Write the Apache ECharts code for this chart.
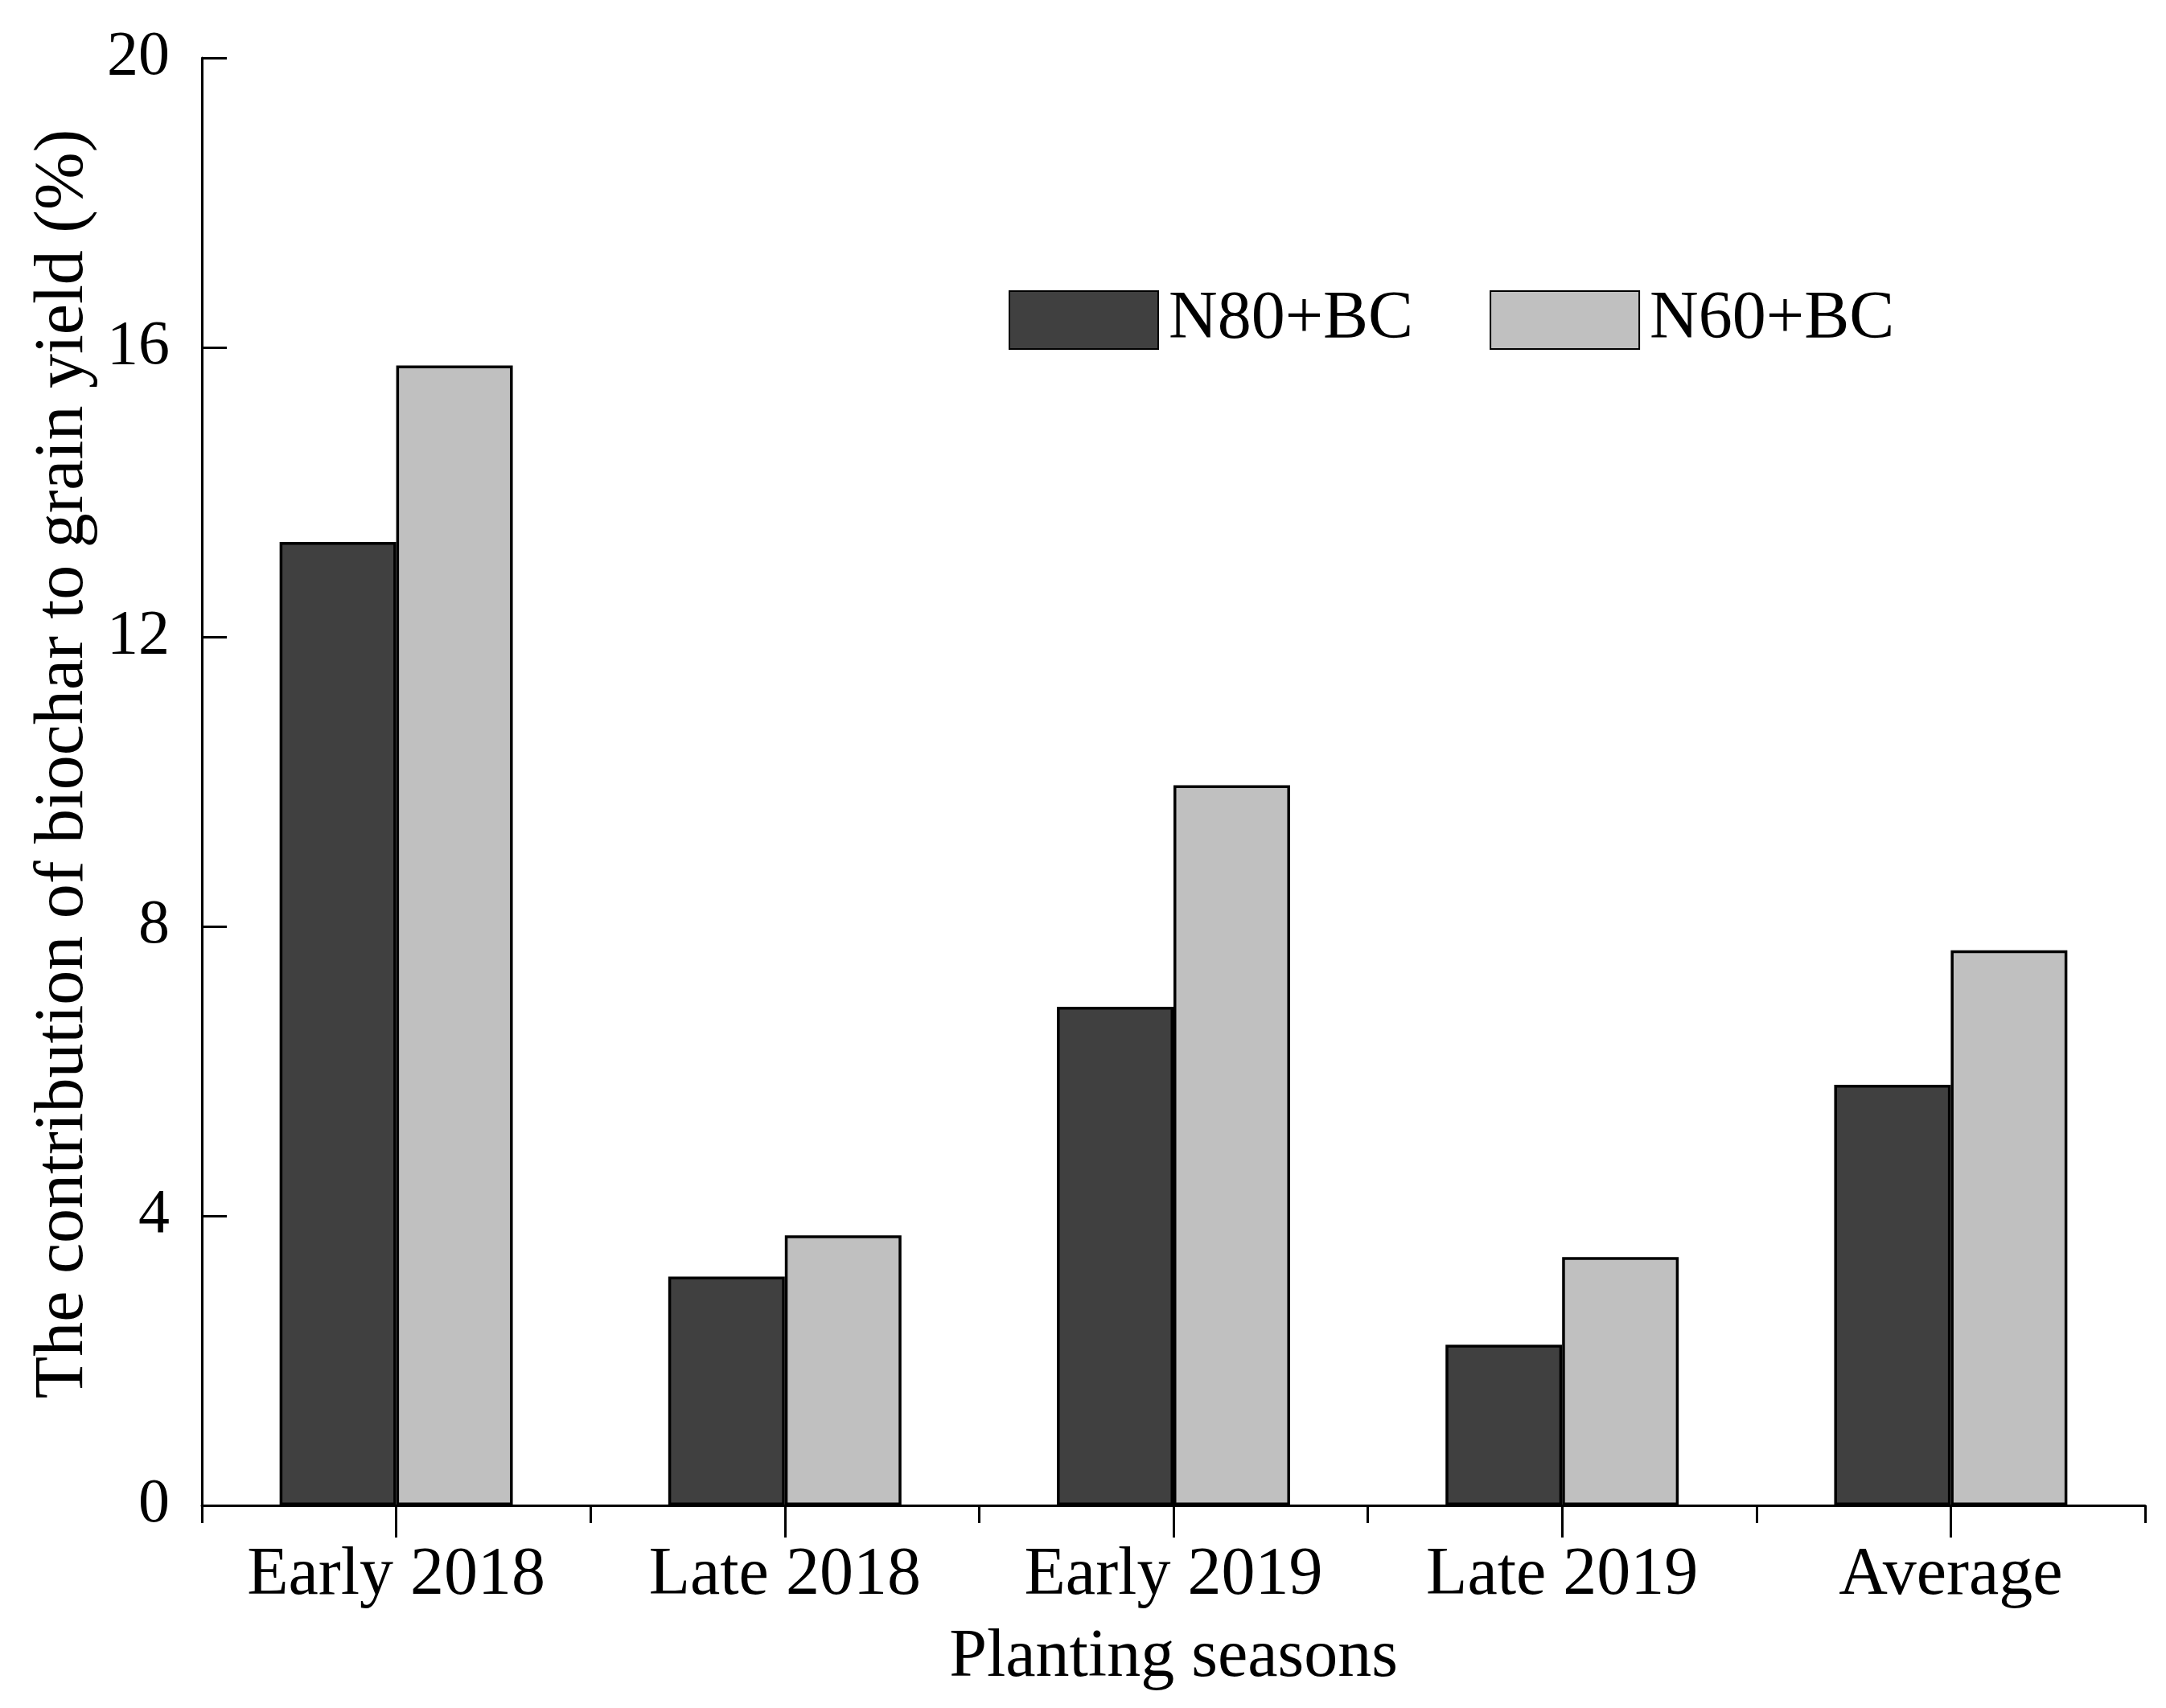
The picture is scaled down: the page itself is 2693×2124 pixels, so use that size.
<!DOCTYPE html>
<html>
<head>
<meta charset="utf-8">
<script src="https://cdn.jsdelivr.net/npm/echarts@6/dist/echarts.min.js"></script>
<style>html,body{margin:0;padding:0;background:#fff;}#c{width:2693px;height:2124px;}</style>
</head>
<body>
<div id="c"></div>
<script>
const categories = ['Early 2018', 'Late 2018', 'Early 2019', 'Late 2019', 'Average'];
const n80bc = [13.31, 3.16, 6.89, 2.22, 5.81];
const n60bc = [15.75, 3.73, 9.95, 3.43, 7.67];
const yTicks = [0, 4, 8, 12, 16, 20];

const FONT = 'Liberation Serif';
const chart = echarts.init(document.getElementById('c'), null, {renderer: 'canvas'});
chart.setOption({
  backgroundColor: '#fff',
  animation: false,
  textStyle: {fontFamily: FONT, color: '#000'},
  grid: {left: 251, right: 26, top: 72, bottom: 252, containLabel: false},
  legend: {
    left: 1249, top: 351,
    itemWidth: 185, itemHeight: 72, itemGap: 95,
    icon: 'rect',
    textStyle: {fontFamily: FONT, fontSize: 84, color: '#000', padding: [0, 0, 0, 8]},
    data: ['N80+BC', 'N60+BC']
  },
  xAxis: [{
    type: 'category', data: categories, position: 'bottom',
    axisLine: {lineStyle: {color: '#000', width: 3}},
    axisTick: {show: true, inside: false, length: 22, lineStyle: {color: '#000', width: 3}},
    axisLabel: {fontFamily: FONT, fontSize: 84, color: '#000', margin: 46},
    name: 'Planting seasons', nameLocation: 'middle', nameGap: 148,
    nameTextStyle: {fontFamily: FONT, fontSize: 84, color: '#000'}
  }, {
    type: 'category', data: categories, position: 'bottom', gridIndex: 0,
    axisLine: {show: false},
    axisTick: {show: true, alignWithLabel: true, length: 40, lineStyle: {color: '#000', width: 3}},
    axisLabel: {show: false}
  }],
  yAxis: {
    type: 'value', min: yTicks[0], max: yTicks[yTicks.length - 1], interval: 4,
    axisLine: {show: true, lineStyle: {color: '#000', width: 3}},
    axisTick: {show: true, inside: true, length: 31, lineStyle: {color: '#000', width: 3}},
    splitLine: {show: false},
    axisLabel: {fontFamily: FONT, fontSize: 78, color: '#000', margin: 40},
    name: 'The contribution of biochar to grain yield (%)',
    nameLocation: 'middle', nameGap: 172,
    nameTextStyle: {fontFamily: FONT, fontSize: 86, color: '#000', verticalAlign: 'middle', padding: [0, 0, 0, 44]}
  },
  series: [{
    name: 'N80+BC', type: 'bar', data: n80bc, xAxisIndex: 0,
    barGap: '0%', barCategoryGap: '40%',
    itemStyle: {color: '#404040', borderColor: '#000', borderWidth: 3.5}
  }, {
    name: 'N60+BC', type: 'bar', data: n60bc, xAxisIndex: 0,
    barGap: '0%', barCategoryGap: '40%',
    itemStyle: {color: '#c0c0c0', borderColor: '#000', borderWidth: 3.5}
  }]
});
</script>
</body>
</html>
